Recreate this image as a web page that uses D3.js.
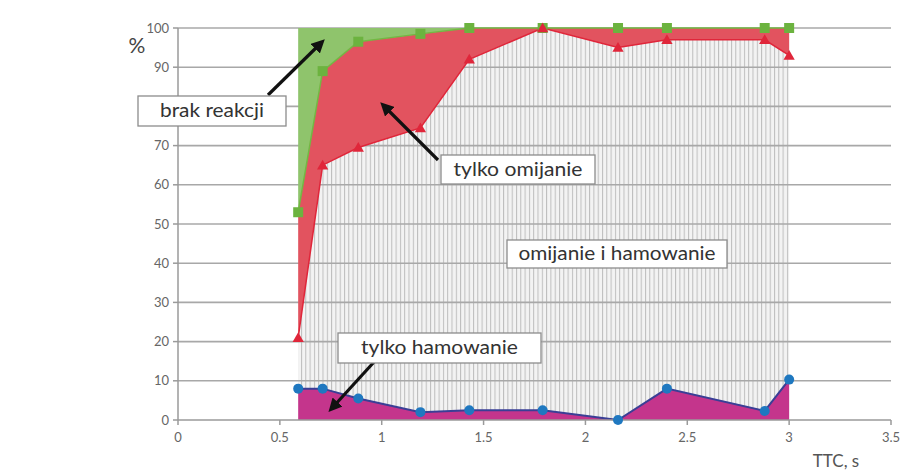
<!DOCTYPE html>
<html><head><meta charset="utf-8">
<script src="https://cdn.jsdelivr.net/npm/d3@7"></script>
<style>body{margin:0;background:#fff}svg{display:block}</style>
</head><body>
<svg id="c" width="905" height="471"></svg>
<script>
const ttc   = [0.59, 0.71, 0.885, 1.19, 1.43, 1.79, 2.16, 2.40, 2.88, 3.0];
const brak  = [53, 89, 96.5, 98.5, 100, 100, 100, 100, 100, 100];   // green upper boundary
const omij  = [21, 65, 69.5, 74.5, 92, 100, 95, 97, 97, 93];         // red boundary
const ham   = [8, 8, 5.5, 2, 2.5, 2.5, 0, 8, 2.3, 10.3];             // blue boundary
const xTicks = [0, 0.5, 1, 1.5, 2, 2.5, 3, 3.5];
const yTicks = [0,10,20,30,40,50,60,70,80,90,100];
// the "80" label is hidden behind the "brak reakcji" box in the reference
const yTickLabels = [0,10,20,30,40,50,60,70,90,100];
const annTexts = ["brak reakcji", "tylko omijanie", "omijanie i hamowanie", "tylko hamowanie"];

const svg = d3.select("#c");
const x = d3.scaleLinear().domain([0,3.5]).range([178,891]);
const y = d3.scaleLinear().domain([0,100]).range([420,28]);
const data = ttc.map((t,i)=>({t, g:brak[i], r:omij[i], b:ham[i]}));

const defs = svg.append("defs");
const pat = defs.append("pattern").attr("id","hatch").attr("patternUnits","userSpaceOnUse")
  .attr("width",4.3).attr("height",10);
pat.append("rect").attr("width",4.3).attr("height",10).attr("fill","#f3f3f3");
pat.append("rect").attr("x",0).attr("width",1).attr("height",10).attr("fill","#bdbdbd");
defs.append("marker").attr("id","arr").attr("viewBox","0 0 10 10").attr("refX",5).attr("refY",5)
  .attr("markerWidth",4.2).attr("markerHeight",4.2).attr("orient","auto")
  .append("path").attr("d","M0,0 L10,5 L0,10 z").attr("fill","#111");

// hatched background region (omijanie i hamowanie)
svg.append("rect").attr("x",x(ttc[0])).attr("y",y(100))
  .attr("width",x(ttc[ttc.length-1])-x(ttc[0])).attr("height",y(0)-y(100))
  .attr("fill","url(#hatch)");

// gridlines
svg.append("g").selectAll("line").data(yTicks.filter(d=>d>0)).join("line")
  .attr("x1",x(0)).attr("x2",x(3.5)).attr("y1",d=>y(d)).attr("y2",d=>y(d))
  .attr("stroke","#a8a8a8").attr("stroke-width",1.6);

// areas
const areaGreen = d3.area().x(d=>x(d.t)).y0(d=>y(d.g)).y1(()=>y(100));
const areaRed = d3.area().x(d=>x(d.t)).y0(d=>y(d.r)).y1(d=>y(d.g));
const areaMag = d3.area().x(d=>x(d.t)).y0(()=>y(0)).y1(d=>y(d.b));
svg.append("path").datum(data).attr("d",areaGreen).attr("fill","#8fc46c");
svg.append("path").datum(data).attr("d",areaRed).attr("fill","#e2535f");
svg.append("path").datum(data).attr("d",areaMag).attr("fill","#c4358c");

// lines
const lg = d3.line().x(d=>x(d.t)).y(d=>y(d.g));
const lr = d3.line().x(d=>x(d.t)).y(d=>y(d.r));
const lb = d3.line().x(d=>x(d.t)).y(d=>y(d.b));
svg.append("path").datum(data).attr("d",lg).attr("fill","none").attr("stroke","#72b843").attr("stroke-width",1.5);
svg.append("path").datum(data).attr("d",lr).attr("fill","none").attr("stroke","#e0263a").attr("stroke-width",1.5);
svg.append("path").datum(data).attr("d",lb).attr("fill","none").attr("stroke","#3a3f96").attr("stroke-width",2);

// axes
const ax = svg.append("g").attr("font-family","Lato, 'Open Sans', sans-serif").attr("font-size",13).attr("fill","#666");
ax.append("line").attr("x1",x(0)).attr("x2",x(0)).attr("y1",y(0)).attr("y2",y(100)).attr("stroke","#9a9a9a").attr("stroke-width",1.5);
ax.append("line").attr("x1",x(0)).attr("x2",x(3.5)).attr("y1",y(0)).attr("y2",y(0)).attr("stroke","#9a9a9a").attr("stroke-width",1.5);
ax.selectAll(".yt").data(yTicks).join("line").attr("x1",x(0)-5).attr("x2",x(0)).attr("y1",d=>y(d)).attr("y2",d=>y(d)).attr("stroke","#9a9a9a").attr("stroke-width",1.5);
ax.selectAll(".xt").data(xTicks).join("line").attr("x1",d=>x(d)).attr("x2",d=>x(d)).attr("y1",y(0)).attr("y2",y(0)+5).attr("stroke","#9a9a9a").attr("stroke-width",1.5);
ax.selectAll(".yl").data(yTickLabels).join("text").attr("x",x(0)-9).attr("y",d=>y(d)+4.5).attr("text-anchor","end").text(d=>d);
ax.selectAll(".xl").data(xTicks).join("text").attr("x",d=>x(d)).attr("y",y(0)+22).attr("text-anchor","middle").text(d=>d);
svg.append("text").attr("x",137).attr("y",53).attr("font-family","Lato, sans-serif").attr("font-size",21).attr("fill","#444").attr("text-anchor","middle").text("%");
svg.append("text").attr("x",836).attr("y",467).attr("font-family","Lato, sans-serif").attr("font-size",17).attr("fill","#555").attr("text-anchor","middle").text("TTC, s");

// markers
svg.append("g").selectAll("rect").data(data).join("rect")
  .attr("x",d=>x(d.t)-5).attr("y",d=>y(d.g)-5).attr("width",10).attr("height",10).attr("fill","#6cb33f");
svg.append("g").selectAll("path").data(data).join("path")
  .attr("d",d3.symbol(d3.symbolTriangle,55)).attr("transform",d=>`translate(${x(d.t)},${y(d.r)+1})`).attr("fill","#e0263a");
svg.append("g").selectAll("circle").data(data).join("circle")
  .attr("cx",d=>x(d.t)).attr("cy",d=>y(d.b)).attr("r",5).attr("fill","#1f78c0");

// annotations
const ann = [
  {t:annTexts[0], bx:[138,286], by:[96,126], w:104, from:[268,95], to:[320,44]},
  {t:annTexts[1], bx:[441,595], by:[155,184], w:129, from:[438,160], to:[385,107]},
  {t:annTexts[2], bx:[507,727], by:[240,268], w:197},
  {t:annTexts[3], bx:[338,541], by:[333,363], w:157, from:[374,362], to:[333,407]},
];
ann.forEach(a=>{
  if(a.from){
    svg.append("line").attr("x1",a.from[0]).attr("y1",a.from[1]).attr("x2",a.to[0]).attr("y2",a.to[1])
      .attr("stroke","#111").attr("stroke-width",3.2).attr("marker-end","url(#arr)");
  }
});
ann.forEach(a=>{
  svg.append("rect").attr("x",a.bx[0]).attr("y",a.by[0]).attr("width",a.bx[1]-a.bx[0]).attr("height",a.by[1]-a.by[0])
    .attr("fill","#fff").attr("stroke","#8c8c8c").attr("stroke-width",1.3);
  svg.append("text").attr("x",(a.bx[0]+a.bx[1])/2).attr("y",(a.by[0]+a.by[1])/2+6)
    .attr("text-anchor","middle").attr("font-family","Lato, sans-serif").attr("font-size",18.5).attr("fill","#333")
    .attr("textLength",a.w).attr("lengthAdjust","spacingAndGlyphs").text(a.t);
});
</script>
</body></html>
